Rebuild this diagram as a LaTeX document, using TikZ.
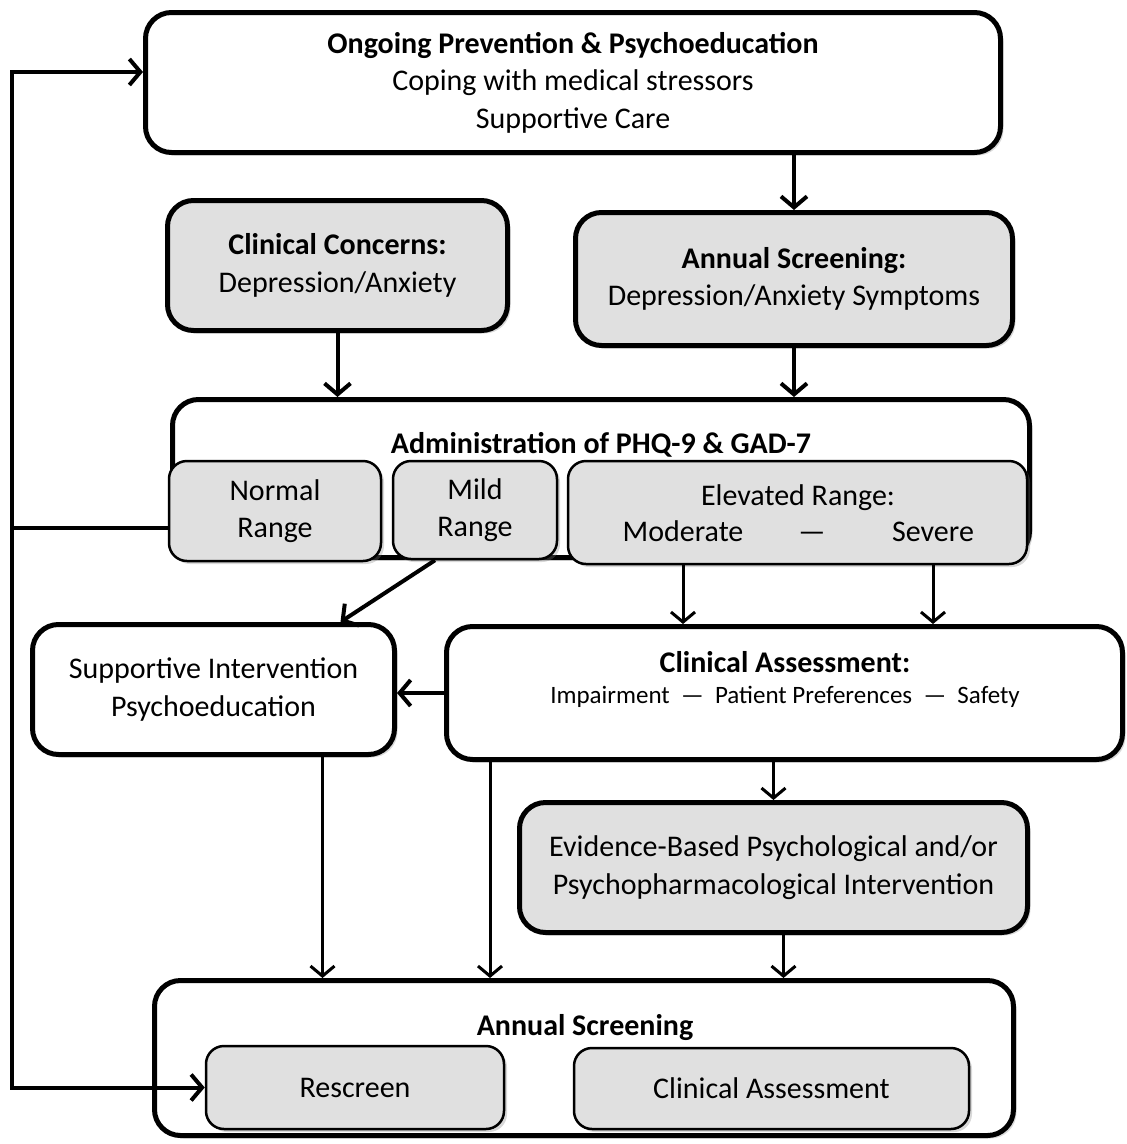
\documentclass[tikz,border=0pt]{standalone}
\usepackage{fontspec}
\setmainfont{Carlito}
\usetikzlibrary{positioning, calc, arrows.meta, shadows}
\definecolor{boxgray}{RGB}{224,224,224}

\begin{document}
\begin{tikzpicture}[x=1pt, y=-1pt, every node/.style={font=\fontsize{30}{37.5}\selectfont, align=center, inner sep=0pt},
        shade/.style={drop shadow={shadow xshift=3pt, shadow yshift=-3pt, opacity=0.3}},
        bigbox/.style={draw, line width=5pt, rounded corners=26pt, fill=white, shade},
        graybox/.style={bigbox, fill=boxgray},
        subbox/.style={draw, line width=2.5pt, rounded corners=18pt, fill=boxgray, shade},
        label/.style={anchor=base},
        arr/.style={line width=4pt, -{Straight Barb[length=11pt, width=26pt]}},
        arrthin/.style={line width=3pt, -{Straight Barb[length=10pt, width=24pt]}},
        looparr/.style={line width=4pt, {Straight Barb[length=11pt, width=26pt]}-{Straight Barb[length=11pt, width=26pt]}}]
    \useasboundingbox (0,0) rectangle (1127,1144);

    \node[bigbox, minimum width=855pt, minimum height=140pt] (prevent) at (573,82.5)
        {\textbf{Ongoing Prevention \& Psychoeducation}\\Coping with medical stressors\\Supportive Care};
    \node[graybox, minimum width=340pt, minimum height=130pt] (concerns) at (337.5,265.5)
        {\textbf{Clinical Concerns:}\\Depression/Anxiety};
    \node[graybox, minimum width=437pt, minimum height=133pt] (annual) at (794,279)
        {\textbf{Annual Screening:}\\Depression/Anxiety Symptoms};

    \node[bigbox, minimum width=857pt, minimum height=158pt] (admin) at (601,478.5) {};
    \node[label] (admintitle) at (601,453) {\textbf{Administration of PHQ-9 \& GAD-7}};
    \node[subbox, minimum width=212pt, minimum height=100pt] (normal) at (275,511) {Normal\\Range};
    \node[subbox, minimum width=164pt, minimum height=98pt] (mild) at (475,510) {Mild\\Range};
    \node[subbox, minimum width=459pt, minimum height=103pt] (elevated) at (797.5,512.5) {};
    \node[label] (elevtitle) at (798,505) {Elevated Range:};
    \node[label] (moderate) at (683,541) {Moderate};
    \node[label] (emdash) at (812,541) {—};
    \node[label] (severe) at (933,541) {Severe};

    \node[bigbox, minimum width=362pt, minimum height=130pt] (support) at (213.5,689.5)
        {Supportive Intervention\\Psychoeducation};
    \node[bigbox, minimum width=676pt, minimum height=133pt] (assess) at (784.5,693) {};
    \node[label] (asstitle) at (785,672) {\textbf{Clinical Assessment:}};
    \node[label, font=\fontsize{25}{30}\selectfont] (asssub) at (785,703)
        {Impairment \ — \ Patient Preferences \ — \ Safety};

    \node[graybox, minimum width=508pt, minimum height=130pt] (evidence) at (773.5,867.5)
        {Evidence-Based Psychological and/or\\Psychopharmacological Intervention};

    \node[bigbox, minimum width=859pt, minimum height=155pt] (screen) at (584,1058) {};
    \node[label] (screentitle) at (585,1035) {\textbf{Annual Screening}};
    \node[subbox, minimum width=298pt, minimum height=83pt] (rescreen) at (355,1087.5) {Rescreen};
    \node[subbox, minimum width=395pt, minimum height=81pt] (clinsub) at (771.5,1088.5) {Clinical Assessment};

    \coordinate (looptop) at (12,72);
    \coordinate (loopbot) at (rescreen.west -| looptop);
    \coordinate (loopmid) at (12,528);

    \draw[arr] (annual.north |- prevent.south) -- (annual.north);
    \draw[arr] (concerns.south) -- (concerns.south |- admin.north);
    \draw[arr] (annual.south) -- (annual.south |- admin.north);
    \draw[arrthin] (moderate |- elevated.south) -- (moderate |- assess.north);
    \draw[arrthin] (severe |- elevated.south) -- (severe |- assess.north);
    \draw[arr] ([xshift=-40pt]mild.south) -- ([xshift=127pt]support.north);
    \draw[arr] (assess.west) -- (assess.west -| support.east);
    \draw[arrthin] (evidence.north |- assess.south) -- (evidence.north);
    \draw[arrthin] ([xshift=10pt]evidence.south) -- ([xshift=10pt]evidence.south |- screen.north);
    \draw[arrthin] ([xshift=109pt]support.south) -- ([xshift=109pt]support.south |- screen.north);
    \draw[arrthin] ([xshift=46pt]assess.south west) -- ([xshift=46pt]assess.south west |- screen.north);
    \draw[looparr] (looptop -| prevent.west) -- (looptop) -- (loopbot) -- (rescreen.west);
    \draw[line width=4pt] (normal.west |- loopmid) -- (loopmid);
\end{tikzpicture}
\end{document}
